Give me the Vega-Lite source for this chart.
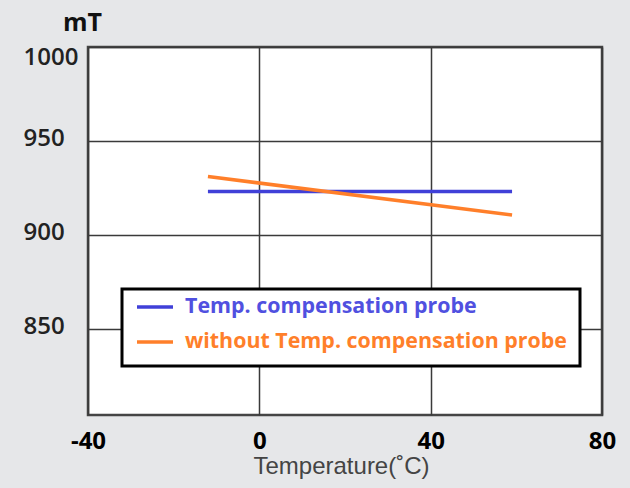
{
  "$schema": "https://vega.github.io/schema/vega-lite/v6.json",
  "width": 514,
  "height": 368,
  "autosize": {"type": "none"},
  "padding": {"left": 88, "top": 47, "right": 28, "bottom": 73},
  "background": "#e6e7e9",
  "config": {
    "view": {"fill": "white", "stroke": "#454545", "strokeWidth": 2.5},
    "legend": {"strokeWidth": 3}
  },
  "data": {
    "values": [
      {"series": "Temp. compensation probe", "temperature": -12, "mT": 923},
      {"series": "Temp. compensation probe", "temperature": 59, "mT": 923},
      {"series": "without Temp. compensation probe", "temperature": -12, "mT": 931},
      {"series": "without Temp. compensation probe", "temperature": 59, "mT": 910.5}
    ]
  },
  "mark": {"type": "line", "strokeWidth": 3.5},
  "encoding": {
    "x": {
      "field": "temperature",
      "type": "quantitative",
      "scale": {"domain": [-40, 80], "nice": false},
      "axis": {
        "values": [-40, 0, 40, 80],
        "labelExpr": "'' + datum.value",
        "grid": true,
        "gridColor": "#3a3a3a",
        "gridWidth": 1.5,
        "gridOpacity": 1,
        "domain": false,
        "ticks": false,
        "labelFont": "Open Sans",
        "labelFontSize": 24,
        "labelFontWeight": "bold",
        "labelColor": "black",
        "labelPadding": 14,
        "labelFlush": false,
        "title": "Temperature(˚C)",
        "titleFont": "Liberation Sans",
        "titleFontSize": 24,
        "titleFontWeight": "normal",
        "titleColor": "#444444",
        "titleBaseline": "alphabetic",
        "titleY": 58,
        "titleX": 253
      }
    },
    "y": {
      "field": "mT",
      "type": "quantitative",
      "scale": {"domain": [804, 1000], "nice": false, "zero": false},
      "axis": {
        "values": [850, 900, 950, 1000],
        "labelExpr": "'' + datum.value",
        "grid": true,
        "gridColor": "#3a3a3a",
        "gridWidth": 1.5,
        "gridOpacity": 1,
        "domain": false,
        "ticks": false,
        "labelAlign": "left",
        "labelPadding": 65,
        "labelFlush": true,
        "labelOffset": -2,
        "labelFont": "Open Sans",
        "labelFontSize": 24,
        "labelFontWeight": 600,
        "labelColor": "#222222",
        "title": "mT",
        "titleAngle": 0,
        "titleAlign": "center",
        "titleBaseline": "alphabetic",
        "titleX": -6,
        "titleY": -17,
        "titleFont": "Open Sans",
        "titleFontSize": 25,
        "titleFontWeight": "bold",
        "titleColor": "#111111"
      }
    },
    "color": {
      "field": "series",
      "type": "nominal",
      "scale": {
        "domain": ["Temp. compensation probe", "without Temp. compensation probe"],
        "range": ["#4040d8", "#ff7f2a"]
      },
      "legend": {
        "orient": "none",
        "legendX": 34,
        "legendY": 242,
        "title": null,
        "direction": "vertical",
        "symbolType": "stroke",
        "symbolSize": 1296,
        "symbolStrokeWidth": 3.5,
        "clipHeight": 10,
        "rowPadding": 13,
        "padding": 13,
        "strokeColor": "black",
        "fillColor": "white",
        "labelFont": "Open Sans",
        "labelFontSize": 21.4,
        "labelFontWeight": "bold",
        "labelOffset": 10,
        "labelLimit": 0,
        "labelColor": {"expr": "datum.value == 'Temp. compensation probe' ? '#5050e0' : '#ff7f2a'"}
      }
    }
  }
}
